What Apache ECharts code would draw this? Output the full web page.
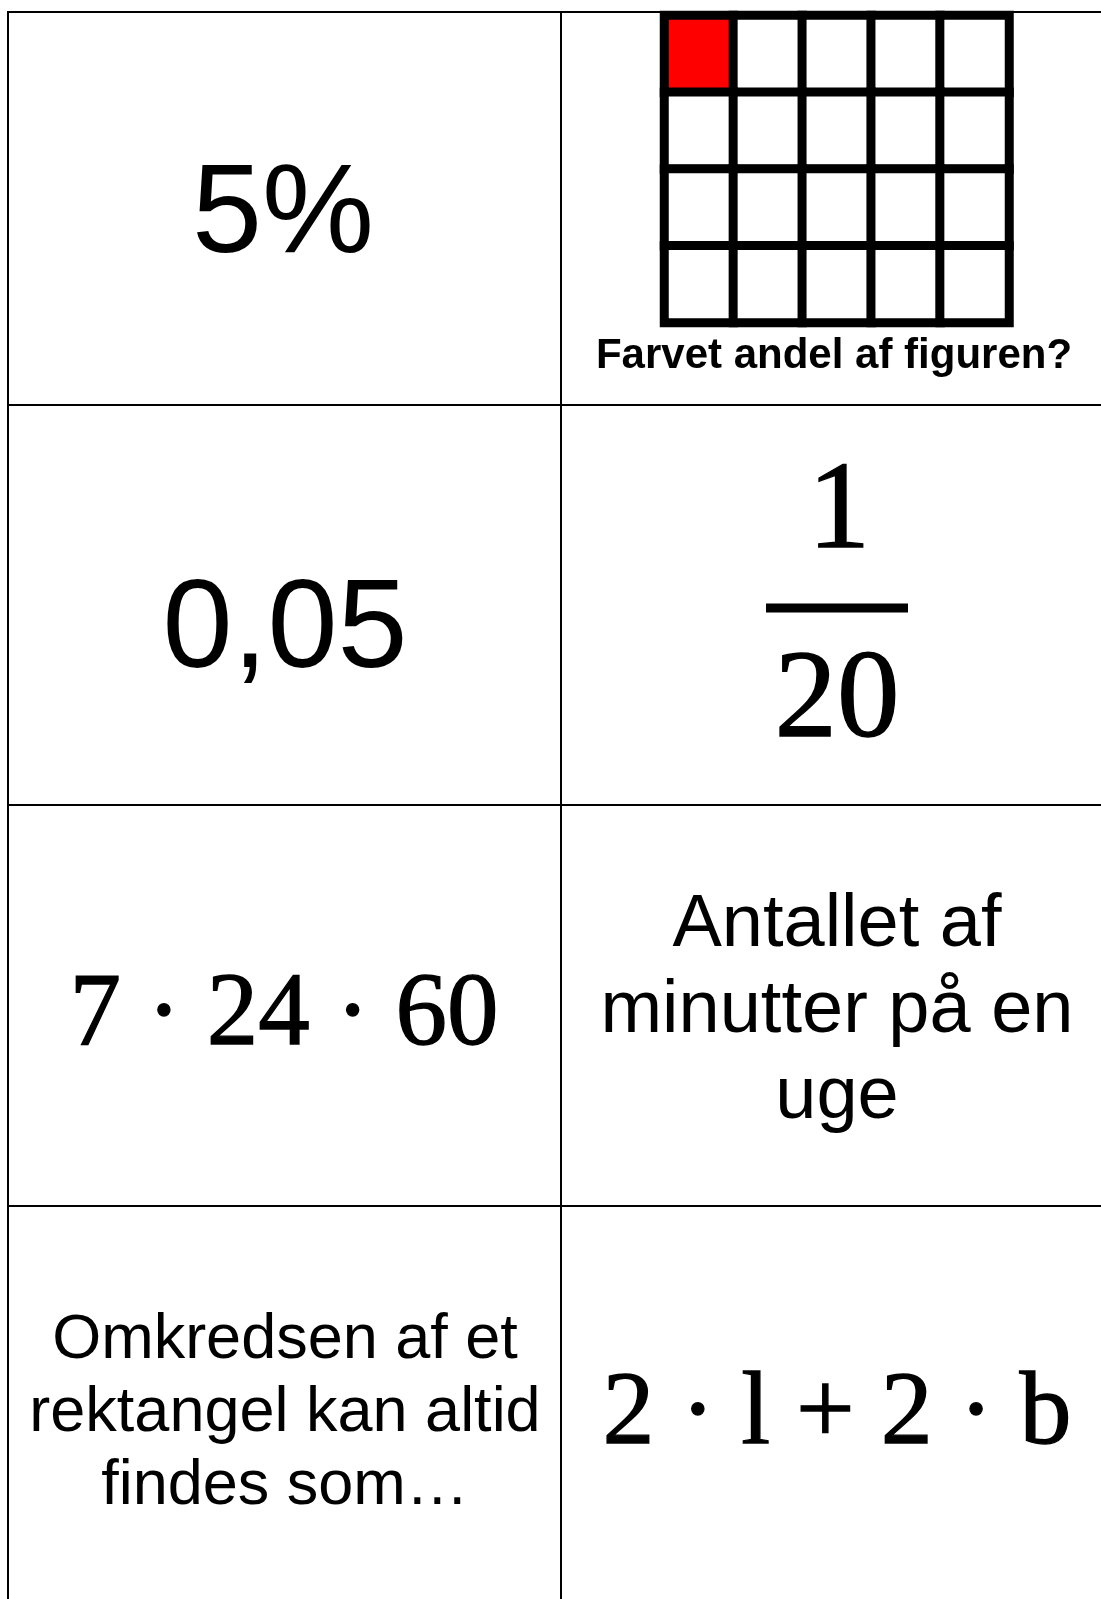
<!DOCTYPE html>
<html>
<head>
<meta charset="utf-8">
<script src="https://cdn.jsdelivr.net/npm/echarts@6/dist/echarts.min.js"></script>
<style>
  html, body { margin: 0; padding: 0; background: #fff; }
  #chart { width: 1101px; height: 1599px; }
</style>
</head>
<body>
<div id="chart"></div>
<script>
// grid figure: 5 columns x 4 rows, one cell coloured
const gridCols = ['1', '2', '3', '4', '5'];
const gridRows = ['1', '2', '3', '4'];
const colouredCells = [[0, 0]]; // [col, row]
const gridCaption = 'Farvet andel af figuren?';

// card texts
const leftCards = ['5%', '0,05', '7 · 24 · 60', 'Omkredsen af et\nrektangel kan altid\nfindes som…'];
const rightCards = ['', '', 'Antallet af\nminutter på en\nuge', '2 · l + 2 · b'];
const fractionTop = '1';
const fractionBottom = '20';

// layout of the card table
const colLines = [8, 561];
const rowLines = [12, 405, 805, 1206];

const chartInstance = echarts.init(document.getElementById('chart'));

const heatData = [];
gridRows.forEach((r, yi) => {
  gridCols.forEach((c, xi) => {
    const on = colouredCells.some(p => p[0] === xi && p[1] === yi);
    heatData.push([xi, yi, on ? 1 : 0]);
  });
});

const sans = '"Liberation Sans", Arial, sans-serif';
const serif = '"Liberation Serif", "Times New Roman", serif';

function txt(x, y, text, font, extra) {
  return {
    type: 'text',
    x: x,
    y: y,
    z: 10,
    style: Object.assign({
      text: text,
      font: font,
      fill: '#000',
      align: 'center',
      textAlign: 'center',
      verticalAlign: 'middle',
      textVerticalAlign: 'middle'
    }, extra || {})
  };
}

const mathStroke = { stroke: '#000', lineWidth: 1.3 };

const graphics = [];
// table lines
colLines.forEach(x => {
  graphics.push({ type: 'line', z: 5, shape: { x1: x, y1: rowLines[0] - 1, x2: x, y2: 1599 }, style: { stroke: '#000', lineWidth: 2 } });
});
rowLines.forEach(y => {
  graphics.push({ type: 'line', z: 5, shape: { x1: colLines[0] - 1, y1: y, x2: 1101, y2: y }, style: { stroke: '#000', lineWidth: 2 } });
});

// left column
graphics.push(txt(283, 217, leftCards[0], '126px ' + sans));
graphics.push(txt(285, 632, leftCards[1], '126px ' + sans));
graphics.push(txt(284, 1017, leftCards[2], '103px ' + serif, mathStroke));
graphics.push(txt(285, 1414, leftCards[3], '63px ' + sans, { lineHeight: 73 }));

// right column
graphics.push(txt(834, 356, gridCaption, 'bold 42px ' + sans));
graphics.push(txt(839, 514, fractionTop, '125px ' + serif, mathStroke));
graphics.push({ type: 'rect', z: 10, shape: { x: 766, y: 603.5, width: 142, height: 9 }, style: { fill: '#000' } });
graphics.push(txt(837, 703, fractionBottom, '125px ' + serif, mathStroke));
graphics.push(txt(837, 1012, rightCards[2], '74px ' + sans, { lineHeight: 86 }));
graphics.push(txt(837, 1416, rightCards[3], '104px ' + serif, mathStroke));

const option = {
  animation: false,
  backgroundColor: '#fff',
  grid: {
    left: 664.5,
    top: 15.5,
    width: 344.5,
    height: 307,
    show: false
  },
  xAxis: {
    type: 'category',
    data: gridCols,
    show: false
  },
  yAxis: {
    type: 'category',
    data: gridRows,
    inverse: true,
    show: false
  },
  visualMap: {
    type: 'piecewise',
    show: false,
    dimension: 2,
    pieces: [
      { value: 0, color: '#ffffff' },
      { value: 1, color: '#ff0000' }
    ]
  },
  series: [
    {
      type: 'heatmap',
      data: heatData,
      itemStyle: {
        borderColor: '#000',
        borderWidth: 9
      },
      emphasis: { disabled: true },
      silent: true
    }
  ],
  graphic: graphics
};

chartInstance.setOption(option);
</script>
</body>
</html>
